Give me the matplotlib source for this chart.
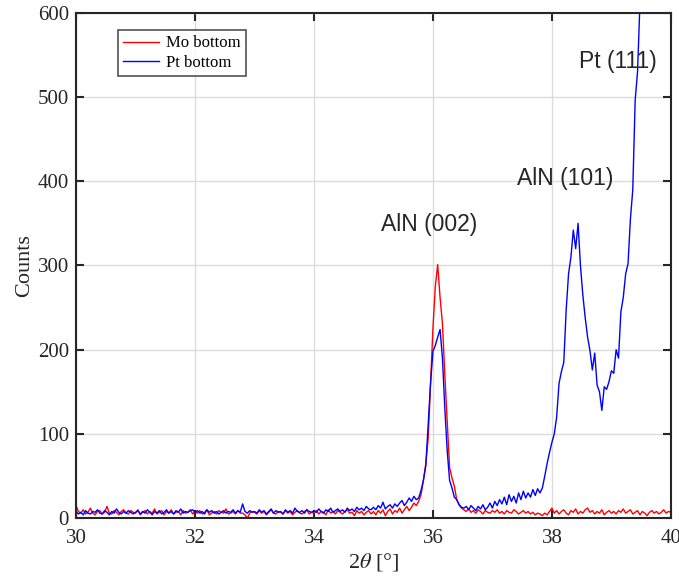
import numpy as np
import matplotlib
matplotlib.use("Agg")
import matplotlib.pyplot as plt

# Dati XRD (passo 0.04 gradi)
two_theta = np.round(np.arange(30, 40.0001, 0.04), 2)

mo_bottom = [
    15, 8, 6, 10, 5, 7, 12, 6, 4, 8, 9, 5, 7, 14, 6, 5, 9, 7, 4, 8, 10, 6, 5, 9, 7,
    6, 10, 4, 7, 9, 5, 8, 6, 11, 5, 7, 9, 4, 8, 6, 10, 5, 7, 8, 4, 9, 6, 7, 10, 5,
    8, 6, 9, 5, 7, 10, 4, 6, 8, 5, 9, 7, 6, 11, 5, 6, 8, 5, 9, 6, 6, 4, 0, 6, 8,
    7, 5, 9, 6, 8, 4, 7, 10, 6, 5, 8, 7, 5, 9, 6, 8, 4, 7, 9, 6, 5, 8, 10, 5, 7,
    6, 9, 5, 8, 7, 4, 10, 6, 8, 5, 9, 7, 5, 8, 10, 6, 7, 3, 9, 6, 8, 4, 7, 9, 5,
    8, 4, 9, 6, 10, 3, 8, 11, 5, 9, 7, 12, 6, 10, 14, 9, 13, 18, 15, 20, 28, 45, 65, 95, 160,
    225, 275, 301, 262, 231, 170, 115, 60, 48, 38, 22, 16, 12, 10, 8, 11, 7, 9, 6, 10, 8, 5, 9, 7, 6,
    9, 7, 10, 6, 8, 5, 9, 7, 6, 10, 8, 5, 7, 9, 6, 8, 5, 7, 4, 6, 5, 3, 6, 4, 8,
    12, 6, 9, 5, 8, 10, 6, 4, 9, 7, 11, 5, 8, 6, 10, 12, 7, 9, 5, 8, 6, 10, 4, 7, 9,
    6, 8, 5, 9, 7, 11, 6, 8, 10, 5, 7, 9, 4, 8, 6, 3, 7, 9, 6, 8, 5, 7, 10, 6, 8,
    7,
]

pt_bottom = [
    8, 5, 7, 4, 9, 6, 5, 8, 7, 10, 6, 5, 9, 7, 4, 8, 6, 11, 7, 5, 8, 6, 9, 7, 5,
    7, 9, 5, 8, 6, 10, 7, 4, 8, 6, 9, 5, 7, 10, 6, 8, 5, 9, 7, 11, 6, 8, 7, 9, 10,
    7, 9, 6, 8, 5, 10, 7, 9, 6, 8, 5, 7, 9, 6, 8, 7, 10, 6, 9, 7, 17, 8, 6, 9, 7,
    8, 6, 10, 7, 9, 5, 8, 11, 6, 9, 7, 8, 5, 10, 7, 9, 6, 12, 8, 7, 9, 6, 10, 8, 7,
    9, 7, 11, 8, 6, 10, 8, 12, 7, 9, 11, 8, 10, 7, 12, 9, 11, 8, 13, 10, 12, 9, 14, 11, 10,
    13, 10, 15, 12, 19, 11, 14, 16, 12, 17, 14, 18, 21, 15, 19, 24, 20, 26, 22, 24, 33, 45, 62, 110, 160,
    198, 205, 215, 224, 190, 130, 80, 45, 36, 25, 22, 16, 13, 12, 14, 10, 15, 12, 9, 14, 11, 16, 10, 13, 18,
    12, 20, 15, 22, 17, 25, 16, 28, 20, 26, 18, 30, 22, 32, 24, 30, 25, 34, 27, 35, 30, 36, 50, 65, 78,
    90, 100, 120, 160, 174, 185, 247, 290, 310, 342, 320, 350, 300, 265, 238, 215, 199, 176, 196, 158, 150, 128, 156, 153, 162,
    175, 172, 200, 190, 245, 262, 290, 302, 355, 390, 496, 530, 610, 700, 820, 950, 1100, 1250, 1400, 1550, 1700, 1850, 2000, 2150, 2300,
    2400,
]

x_ticks = [30, 32, 34, 36, 38, 40]
y_ticks = [0, 100, 200, 300, 400, 500, 600]

peak_labels = ["AlN (002)", "AlN (101)", "Pt (111)"]
peak_x = [35.93, 38.23, 39.11]
peak_y = [349, 403, 542]

plt.rcParams['mathtext.fontset'] = 'stix'
serif = 'Liberation Serif'
axcol = '#262626'

fig = plt.figure(figsize=(6.79, 5.79), dpi=100)
ax = fig.add_axes([0.112, 0.105, 0.876, 0.873])

ax.plot(two_theta, mo_bottom, color='red', lw=1.0, label='Mo bottom')
ax.plot(two_theta, pt_bottom, color='blue', lw=1.0, label='Pt bottom')

for txt, px, py in zip(peak_labels, peak_x, peak_y):
    ax.text(px, py, txt, ha='center', va='center', fontsize=16.5,
            family='Liberation Sans', color='#262626')

ax.set_xlim(30, 40)
ax.set_ylim(0, 600)
ax.set_xticks(x_ticks)
ax.set_yticks(y_ticks)
ax.grid(True, color='#dcdcdc', lw=1.0)
ax.set_axisbelow(True)

ax.tick_params(direction='in', top=True, right=True, length=6, width=1.5,
               color=axcol, labelcolor=axcol, labelsize=15)
ax.tick_params(axis='x', pad=8)
ax.tick_params(axis='y', pad=5)
for lab in ax.get_xticklabels() + ax.get_yticklabels():
    lab.set_family(serif)
for sp in ax.spines.values():
    sp.set_color(axcol)
    sp.set_linewidth(1.5)

ax.set_xlabel(r'2$\theta$ [°]', fontsize=16, family=serif, labelpad=2, color=axcol)
ax.set_ylabel('Counts', fontsize=16, family=serif, labelpad=3, color=axcol)

leg = ax.legend(loc='upper left', bbox_to_anchor=(0.07, 0.965), fancybox=False,
                edgecolor=axcol, prop={'family': serif, 'size': 12},
                handlelength=2.2, handletextpad=0.4, borderpad=0.3,
                labelspacing=0.2, borderaxespad=0)
leg.get_frame().set_linewidth(1.2)

plt.savefig('out.png', dpi=100)
plt.close()
